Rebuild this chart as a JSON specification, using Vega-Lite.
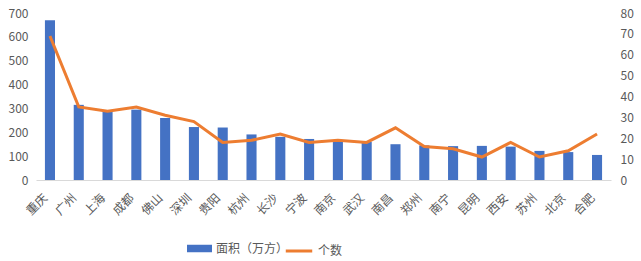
{
  "$schema": "https://vega.github.io/schema/vega-lite/v6.json",
  "width": 575,
  "height": 167,
  "autosize": {"type": "none"},
  "padding": {"left": 36, "top": 13, "right": 30, "bottom": 81},
  "config": {
    "view": {"stroke": null},
    "font": "Noto Sans CJK SC",
    "axis": {"labelColor": "#595959", "grid": false, "ticks": false, "domain": false, "labelFontSize": 12, "title": null},
    "legend": {"labelColor": "#595959", "labelFontSize": 12, "padding": 0, "labelOffset": 4}
  },
  "data": {
    "values": [
      {"city": "重庆", "area": 670, "count": 69},
      {"city": "广州", "area": 315, "count": 35},
      {"city": "上海", "area": 293, "count": 33},
      {"city": "成都", "area": 295, "count": 35},
      {"city": "佛山", "area": 260, "count": 31},
      {"city": "深圳", "area": 222, "count": 28},
      {"city": "贵阳", "area": 220, "count": 18},
      {"city": "杭州", "area": 191, "count": 19},
      {"city": "长沙", "area": 181, "count": 22},
      {"city": "宁波", "area": 172, "count": 18},
      {"city": "南京", "area": 164, "count": 19},
      {"city": "武汉", "area": 160, "count": 18},
      {"city": "南昌", "area": 150, "count": 25},
      {"city": "郑州", "area": 145, "count": 16},
      {"city": "南宁", "area": 142, "count": 15},
      {"city": "昆明", "area": 143, "count": 11},
      {"city": "西安", "area": 140, "count": 18},
      {"city": "苏州", "area": 122, "count": 11},
      {"city": "北京", "area": 117, "count": 14},
      {"city": "合肥", "area": 105, "count": 22}
    ]
  },
  "encoding": {
    "x": {
      "field": "city",
      "type": "nominal",
      "sort": null,
      "scale": {"paddingInner": 0.65, "paddingOuter": 0.31},
      "axis": {"labelAngle": -45, "domain": true, "domainColor": "#D9D9D9", "domainWidth": 1, "labelPadding": 12, "labelOffset": -8, "labelFontSize": 12}
    }
  },
  "layer": [
    {
      "mark": {"type": "bar"},
      "encoding": {
        "y": {"field": "area", "type": "quantitative", "scale": {"domain": [0, 700]}, "axis": {"values": [0, 100, 200, 300, 400, 500, 600, 700], "labelPadding": 8}},
        "fill": {
          "datum": "面积（万方）",
          "scale": {"range": ["#4472C4"]},
          "legend": {"orient": "none", "legendX": 151, "legendY": 223, "symbolType": "M-1,-0.3H1V0.3H-1Z", "symbolSize": 625, "symbolStrokeWidth": 0, "title": null}
        }
      }
    },
    {
      "mark": {"type": "line", "strokeWidth": 3},
      "encoding": {
        "y": {"field": "count", "type": "quantitative", "scale": {"domain": [0, 80]}, "axis": {"orient": "right", "values": [0, 10, 20, 30, 40, 50, 60, 70, 80], "labelPadding": 9}},
        "stroke": {
          "datum": "个数",
          "scale": {"range": ["#ED7D31"]},
          "legend": {"orient": "none", "legendX": 248, "legendY": 223, "symbolType": "stroke", "symbolSize": 700, "symbolStrokeWidth": 3, "title": null}
        }
      }
    }
  ],
  "resolve": {"scale": {"y": "independent", "fill": "independent", "stroke": "independent"}}
}
